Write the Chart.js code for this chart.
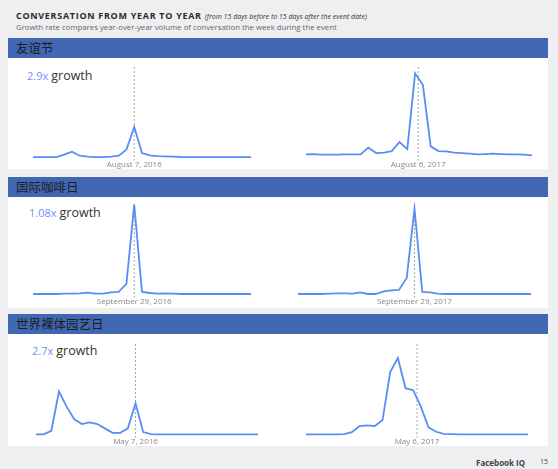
<!DOCTYPE html>
<html>
<head>
<meta charset="utf-8">
<script src="https://cdn.jsdelivr.net/npm/chart.js@4.4.1/dist/chart.umd.min.js"></script>
<style>
  body { margin:0; background:#eeeff1; font-family:"Open Sans", sans-serif; }
  #page { position:relative; width:558px; height:469px; overflow:hidden; background:#eeeff1; }
  .title { position:absolute; left:16px; top:9px; font-size:9px; font-weight:bold; letter-spacing:0.7px; color:#2b2b2b; white-space:nowrap; }
  .title i { font-weight:normal; letter-spacing:0; font-size:7px; color:#333; }
  .sub { position:absolute; left:16px; top:22px; font-size:7.8px; color:#666; white-space:nowrap; }
  .panel { position:absolute; left:8px; width:540px; background:#fff; }
  .bar { position:absolute; left:8px; width:540px; height:20px; background:#4267b2; }
  .bar span { position:absolute; left:8px; top:1px; font-family:"Noto Sans CJK SC", sans-serif; font-size:12.5px; line-height:18px; color:#1d1d1d; }
  .growth { position:absolute; white-space:nowrap; }
  .growth .n { font-size:11px; color:#6f92f7; }
  .growth .g { font-size:12.5px; color:#333; margin-left:3px; }
  canvas { position:absolute; }
  .foot { position:absolute; top:457px; left:476px; font-size:8px; font-weight:bold; color:#444; }
  .pg { position:absolute; top:457px; left:540px; font-size:7px; color:#444; }
</style>
</head>
<body>
<div id="page">
  <div class="title">CONVERSATION FROM YEAR TO YEAR <i>(from 15 days before to 15 days after the event date)</i></div>
  <div class="sub">Growth rate compares year-over-year volume of conversation the week during the event</div>

  <div class="panel" style="top:58px;height:111px"></div>
  <div class="panel" style="top:197px;height:111px"></div>
  <div class="panel" style="top:334px;height:112px"></div>

  <div class="bar" style="top:38px"><span id="t0"></span></div>
  <div class="bar" style="top:177px"><span id="t1"></span></div>
  <div class="bar" style="top:314px"><span id="t2"></span></div>

  <div class="growth" style="left:27px;top:63px"><span class="n" id="g0"></span><span class="g">growth</span></div>
  <div class="growth" style="left:29px;top:200px"><span class="n" id="g1"></span><span class="g">growth</span></div>
  <div class="growth" style="left:32px;top:338px"><span class="n" id="g2"></span><span class="g">growth</span></div>

  <canvas id="c0" width="226" height="105" style="left:29px;top:65px"></canvas>
  <canvas id="c1" width="234" height="105" style="left:302px;top:65px"></canvas>
  <canvas id="c2" width="226" height="105" style="left:29px;top:202px"></canvas>
  <canvas id="c3" width="241" height="105" style="left:294px;top:202px"></canvas>
  <canvas id="c4" width="230" height="105" style="left:32px;top:342px"></canvas>
  <canvas id="c5" width="230" height="105" style="left:302px;top:342px"></canvas>

  <div class="foot">Facebook IQ</div>
  <div class="pg">15</div>
</div>
<script>
// events and growth
var eventNames = ['友谊节', '国际咖啡日', '世界裸体园艺日'];
var growthRates = ['2.9x', '1.08x', '2.7x'];

// daily conversation volume around each event (arbitrary units)
var friendship2016 = [3.3,3.3,3.3,3.3,5.7,8.7,4.7,3.7,3.3,3.3,3.7,4.7,10.7,33.3,7.3,5,4.3,4,3.7,3.4,3.3,3.3,3.3,3.3,3.3,3.3,3.3,3.3,3.3];
var friendship2017 = [6,6.3,5.7,5.7,5.7,6,6,6,12.7,7.3,7.7,9.3,18.3,11.3,86.7,75,14,9.3,9,7.7,7.3,6.7,6,6.3,6.7,6.3,6,6,5.7,5];
var coffee2016 = [3.4,3.4,3.4,3.4,3.7,3.7,4,4.7,3.7,3.7,5,5.4,13.4,92.4,5.4,4.4,3.7,4,3.7,3.4,3.4,3.4,3.4,3.4,3.4,3.4,3.4,3.4,3.4];
var coffee2017 = [3.4,3.4,3.4,3.4,3.7,4,4,3.7,5,3.4,3.4,6,7,7.4,19.4,88.4,5.4,5,3.7,3.4,3.4,3.4,3.4,3.4,3.4,3.4,3.4,3.4,3.4,3.4,3.4];
var garden2016 = [3,3,6.6,45.6,30.6,18,13.3,15,13.3,9,4.6,4.6,9,34,5.3,3.3,3,3,3,3,3,3,3,3,3,3,3,3,3,3];
var garden2017 = [3,3,3,3,3,3.3,5.3,11.3,12,11.3,17.3,65,79,49,47,30.6,10,5.6,3.6,3.3,3,3,3,3,3,3,3,3,3,3];

// event day position in each series, and its date label
var eventIndex = [13, 14.4, 13, 15, 13, 14.5];
var eventDates = ['August 7, 2016', 'August 6, 2017', 'September 29, 2016', 'September 29, 2017', 'May 7, 2016', 'May 6, 2017'];

var series = [friendship2016, friendship2017, coffee2016, coffee2017, garden2016, garden2017];

for (var k = 0; k < 3; k++) {
  document.getElementById('t' + k).textContent = eventNames[k];
  document.getElementById('g' + k).textContent = growthRates[k];
}

var eventLine = {
  id: 'eventLine',
  beforeDatasetsDraw: function(chart, args, opts) {
    var ctx = chart.ctx, a = chart.chartArea;
    var x = chart.scales.x.getPixelForValue(opts.value);
    ctx.save();
    ctx.strokeStyle = '#a8a8a8';
    ctx.lineWidth = 1;
    ctx.setLineDash([2, 2]);
    ctx.beginPath();
    ctx.moveTo(x, a.top);
    ctx.lineTo(x, a.bottom);
    ctx.stroke();
    ctx.restore();
  }
};

function makeChart(i) {
  var vals = series[i];
  var pts = vals.map(function(v, j) { return {x: j, y: v}; });
  var ev = eventIndex[i];
  new Chart(document.getElementById('c' + i), {
    type: 'line',
    data: { datasets: [{ data: pts, borderColor: '#5a8cf5', borderWidth: 1.8, pointRadius: 0, tension: 0, clip: false }] },
    options: {
      responsive: false,
      animation: false,
      layout: { padding: { left: 4, right: 4, top: 2, bottom: 0 } },
      plugins: { legend: { display: false }, tooltip: { enabled: false }, eventLine: { value: ev } },
      scales: {
        x: {
          type: 'linear', min: 0, max: vals.length - 1,
          grid: { display: false, drawTicks: false },
          border: { display: false },
          afterBuildTicks: function(s) { s.ticks = [{ value: ev }]; },
          ticks: {
            padding: 0, maxRotation: 0, autoSkip: false,
            font: { family: 'Open Sans', size: 8 }, color: '#888',
            callback: function() { return eventDates[i]; }
          }
        },
        y: { display: false, min: 0, max: 93 }
      }
    },
    plugins: [eventLine]
  });
}

for (var i = 0; i < 6; i++) makeChart(i);
</script>
</body>
</html>
